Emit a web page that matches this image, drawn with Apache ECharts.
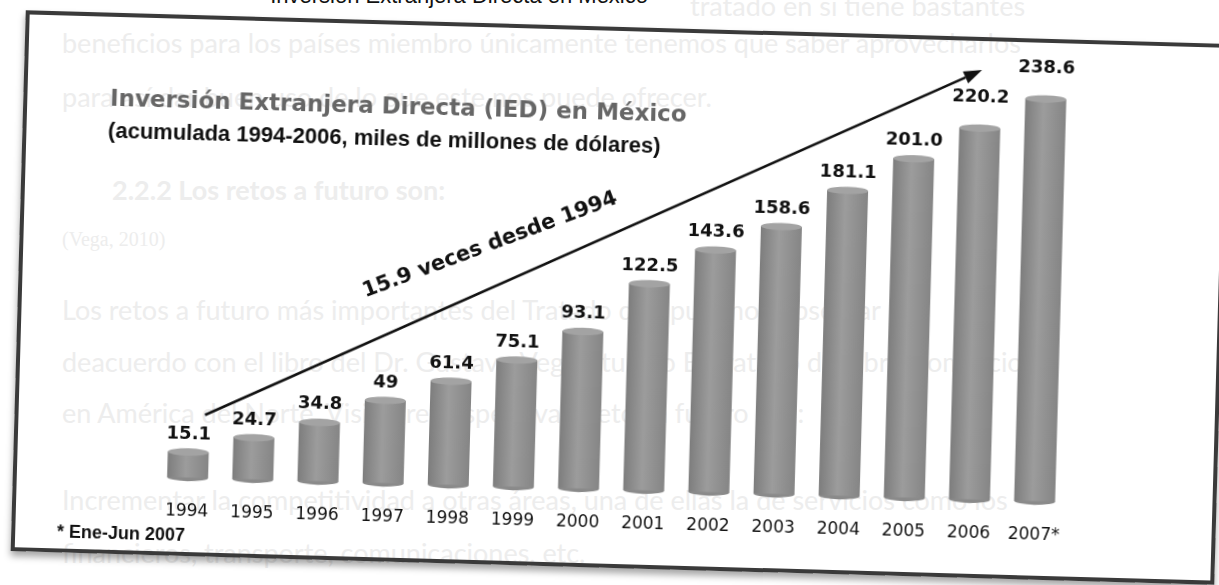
<!DOCTYPE html>
<html><head><meta charset="utf-8">
<script src="https://cdn.jsdelivr.net/npm/echarts@6/dist/echarts.min.js"></script>
<style>
html,body{margin:0;padding:0;width:1219px;height:585px;overflow:hidden;background:#fff;}
.bg{position:absolute;white-space:nowrap;font-family:Lato,'Open Sans',sans-serif;font-size:27px;color:#ededed;line-height:27px;}
#cap{position:absolute;white-space:nowrap;font-family:'Liberation Sans',Arial,sans-serif;font-size:22px;color:#111;line-height:22px;}
#wrap{position:absolute;left:18px;top:27px;width:1204px;height:541px;transform:rotate(1.6deg);transform-origin:50% 50%;}
#frame{position:absolute;left:0;top:0;width:1204px;height:541px;box-sizing:border-box;border:4px solid #3a3a3a;box-shadow:0 5px 7px rgba(0,0,0,0.35);}
#chart{position:absolute;left:0;top:0;width:1204px;height:541px;}
</style></head><body>
<div id="cap" style="right:571px;top:-15px;">Inversión Extranjera Directa en México</div>
<div class="bg" style="left:690px;top:-8px;">tratado en si tiene bastantes</div>
<div class="bg" style="left:62px;top:29px;">beneficios para los países miembro únicamente tenemos que saber aprovecharlos</div>
<div class="bg" style="left:62px;top:83px;">para así dar buen uso de lo que este nos puede ofrecer.</div>
<div class="bg" style="left:112px;top:176px;font-weight:bold;">2.2.2 Los retos a futuro son:</div>
<div class="bg" style="left:62px;top:226px;font-size:20px;font-family:'Liberation Serif',serif;">(Vega, 2010)</div>
<div class="bg" style="left:62px;top:296px;">Los retos a futuro más importantes del Tratado que pudimos observar</div>
<div class="bg" style="left:62px;top:348px;">deacuerdo con el libro del Dr. Gustavo Vega titulado El Tratado de Libre Comercio</div>
<div class="bg" style="left:62px;top:399px;">en América del Norte, Visión retrospectiva y retos a futuro son:</div>
<div class="bg" style="left:62px;top:486px;">Incrementar la competitividad a otras áreas, una de ellas la de servicios como los</div>
<div class="bg" style="left:62px;top:539px;">financieros, transporte, comunicaciones, etc.</div>
<div id="wrap"><div id="frame"></div><div id="chart"></div></div>
<script>
const years = ['1994','1995','1996','1997','1998','1999','2000','2001','2002','2003','2004','2005','2006','2007*'];
const values = [15.1, 24.7, 34.8, 49, 61.4, 75.1, 93.1, 122.5, 143.6, 158.6, 181.1, 201.0, 220.2, 238.6];
const valueLabels = ['15.1','24.7','34.8','49','61.4','75.1','93.1','122.5','143.6','158.6','181.1','201.0','220.2','238.6'];
const titleLine1 = 'Inversión Extranjera Directa (IED) en México';
const titleLine2 = '(acumulada 1994-2006, miles de millones de dólares)';
const growthNote = '15.9 veces desde 1994';
const footNote = '* Ene-Jun 2007';

const chart = echarts.init(document.getElementById('chart'));
const barData = values.map((v, i) => ({
  value: v,
  label: { distance: i >= values.length - 2 ? 22 : 9 }
}));
const tip = [957.5, 33], start = [190.5, 399.5];
const dx = tip[0]-start[0], dy = tip[1]-start[1], len = Math.hypot(dx, dy);
const ux = dx/len, uy = dy/len, hl = 18, hw = 6.5;
const base = [tip[0]-hl*ux, tip[1]-hl*uy];
chart.setOption({
  animation: false,
  backgroundColor: 'transparent',
  grid: { left: 142.2, right: 149.3, top: 24.1, bottom: 78.5 },
  xAxis: {
    type: 'category', data: years,
    axisLine: { show: false }, axisTick: { show: false },
    axisLabel: { interval: 0, margin: 26, fontSize: 17, color: '#111', fontFamily: 'DejaVu Sans' }
  },
  yAxis: { type: 'value', min: 0, max: 260, show: false, splitLine: { show: false } },
  series: [
    {
      type: 'bar', data: barData, barWidth: 41, z: 2,
      itemStyle: { color: { type: 'linear', x: 0, y: 0, x2: 1, y2: 0, colorStops: [
        { offset: 0, color: '#7d7d7d' }, { offset: 0.45, color: '#9c9c9c' }, { offset: 1, color: '#858585' } ] } },
      label: { show: true, position: 'top', fontSize: 18, fontWeight: 'bold', color: '#111',
        fontFamily: 'DejaVu Sans', formatter: p => valueLabels[p.dataIndex] }
    },
    {
      type: 'pictorialBar', data: values, symbol: 'circle', symbolSize: [41, 7.4],
      symbolPosition: 'end', symbolOffset: [0, '-50%'], z: 3,
      itemStyle: { color: '#a3a3a3' }
    },
    {
      type: 'pictorialBar', data: values, symbol: 'circle', symbolSize: [41, 7.4],
      symbolPosition: 'start', symbolOffset: [0, '50%'], z: 1,
      itemStyle: { color: '#8a8a8a' }
    }
  ],
  graphic: [
    { type: 'text', x: 86.7, y: 87.3, style: { text: titleLine1, font: 'bold 23px "DejaVu Sans"', fill: '#666', verticalAlign: 'middle' } },
    { type: 'text', x: 85.6, y: 119.4, style: { text: titleLine2, font: 'bold 22px "Liberation Sans"', fill: '#111', verticalAlign: 'middle' } },
    { type: 'line', shape: { x1: start[0], y1: start[1], x2: base[0], y2: base[1] }, style: { stroke: '#111', lineWidth: 2.5 } },
    { type: 'polygon', shape: { points: [tip, [base[0]-hw*uy, base[1]+hw*ux], [base[0]+hw*uy, base[1]-hw*ux]] }, style: { fill: '#111' } },
    { type: 'text', x: 470.6, y: 221.7, rotation: 22.1*Math.PI/180, style: { text: growthNote, font: 'bold 21px "DejaVu Sans"', fill: '#111', align: 'center', verticalAlign: 'middle' } },
    { type: 'text', x: 45.7, y: 520.6, style: { text: footNote, font: 'bold 18px "Liberation Sans"', fill: '#111', verticalAlign: 'middle' } }
  ]
});
</script>
</body></html>
